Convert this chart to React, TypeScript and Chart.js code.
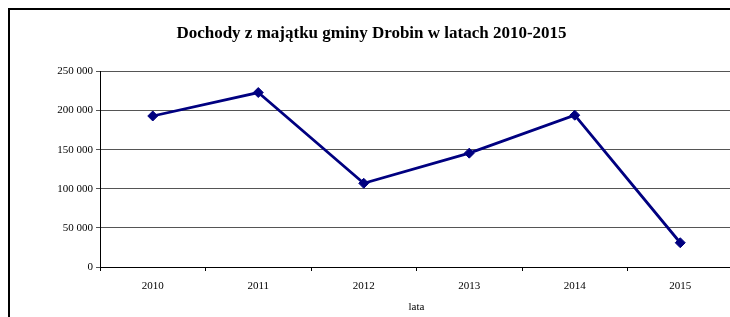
import React, { useEffect, useRef } from "react";
import { Chart, registerables } from "chart.js";

Chart.register(...registerables);

const chartTitle = "Dochody z majątku gminy Drobin w latach 2010-2015";
const xAxisTitle = "lata";
const years = ["2010", "2011", "2012", "2013", "2014", "2015"];
const incomes = [193000, 223000, 107000, 145500, 194000, 31000];
const yMin = 0;
const yMax = 250000;
const yStep = 50000;

const FONT = "'Liberation Serif', 'Times New Roman', serif";

function formatThousands(v: number): string {
  return String(Math.round(v)).replace(/\B(?=(\d{3})+(?!\d))/g, " ");
}

export default function App() {
  const canvasRef = useRef<HTMLCanvasElement | null>(null);

  useEffect(() => {
    const canvas = canvasRef.current;
    if (!canvas) return;
    const chart = new Chart(canvas, {
      type: "line",
      data: {
        labels: years,
        datasets: [
          {
            data: incomes,
            borderColor: "#000080",
            backgroundColor: "#000080",
            borderWidth: 2.8,
            pointStyle: "rectRot",
            pointRadius: 5,
            pointBackgroundColor: "#000080",
            pointBorderColor: "#000080",
            pointBorderWidth: 1,
            tension: 0,
            fill: false,
          },
        ],
      },
      options: {
        responsive: false,
        animation: false,
        layout: { padding: { left: 0, right: 0, top: 0, bottom: 0 } },
        plugins: {
          legend: { display: false },
          tooltip: { enabled: false },
          title: {
            display: true,
            text: chartTitle,
            color: "#000",
            font: { family: FONT, size: 17, weight: "bold" },
            padding: { top: 13, bottom: 28 },
          },
        },
        scales: {
          x: {
            type: "category",
            offset: true,
            grid: {
              offset: true,
              drawOnChartArea: false,
              drawTicks: true,
              tickLength: 4,
              color: "#000",
            },
            border: { display: true, color: "#000", width: 1 },
            ticks: {
              color: "#000",
              font: { family: FONT, size: 11 },
              padding: 9,
              maxRotation: 0,
              autoSkip: false,
            },
            title: {
              display: true,
              text: xAxisTitle,
              color: "#000",
              font: { family: FONT, size: 11 },
              padding: { top: 4, bottom: 3 },
            },
            afterFit: (scale: any) => {
              scale.height = 50;
            },
          },
          y: {
            min: yMin,
            max: yMax,
            grid: {
              color: "#555",
              tickLength: 4,
              drawTicks: true,
            },
            border: { display: true, color: "#000", width: 1 },
            ticks: {
              stepSize: yStep,
              color: "#000",
              font: { family: FONT, size: 11 },
              padding: 3,
              callback: (v: any) => formatThousands(Number(v)),
            },
            afterFit: (scale: any) => {
              scale.width = 96;
            },
          },
        },
      },
    });
    return () => chart.destroy();
  }, []);

  return (
    <div
      style={{
        position: "fixed",
        left: 8,
        top: 8,
        width: 722,
        height: 309,
        overflow: "hidden",
        borderLeft: "2px solid #000",
        borderTop: "2px solid #000",
        boxSizing: "border-box",
        background: "#fff",
      }}
    >
      <canvas
        ref={canvasRef}
        width={735}
        height={307}
        style={{ display: "block", width: 735, height: 307, marginLeft: -6 }}
      />
    </div>
  );
}
